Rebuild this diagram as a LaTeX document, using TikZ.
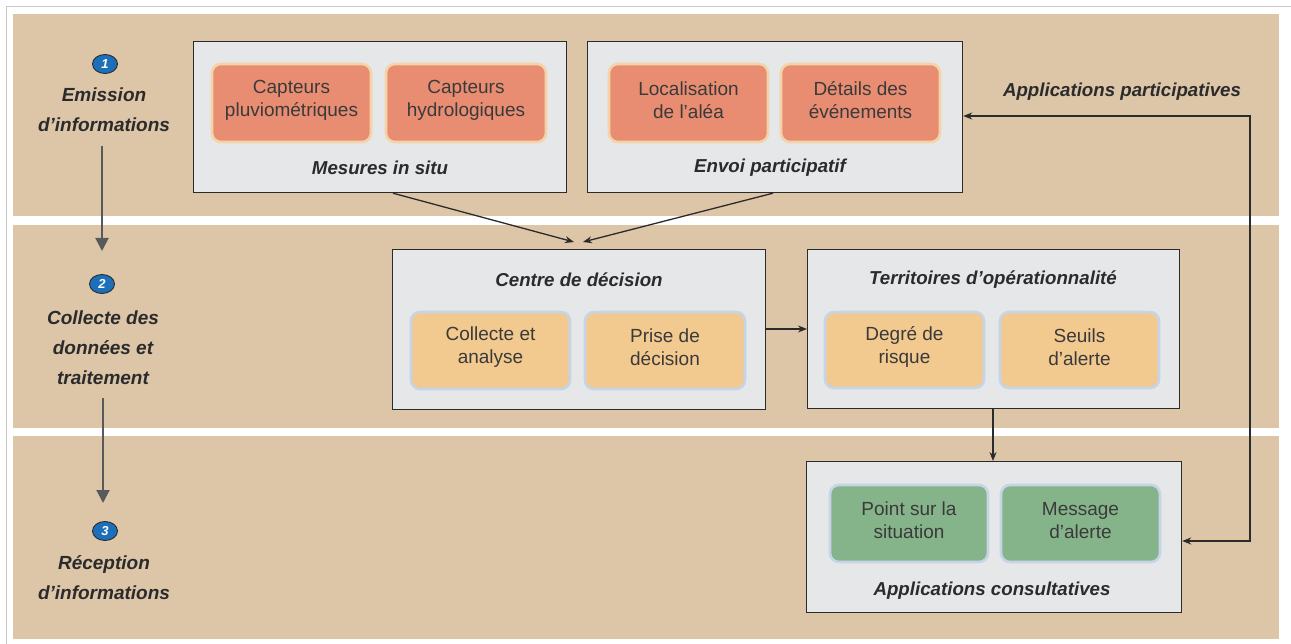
\documentclass[tikz,border=0pt]{standalone}
\usepackage{fontspec}
\setmainfont{Liberation Sans}
\usetikzlibrary{arrows.meta,shapes.geometric}
\definecolor{band}{HTML}{DDC5A8}
\definecolor{panel}{HTML}{E6E7E9}
\definecolor{txt}{HTML}{2B2B2B}
\definecolor{itemtxt}{HTML}{3A3A3A}
\definecolor{orangebox}{HTML}{E98D72}
\definecolor{orangerim}{HTML}{F4D3A8}
\definecolor{yellowbox}{HTML}{F2C98F}
\definecolor{greenbox}{HTML}{86B48A}
\definecolor{bluerim}{HTML}{C6D4E8}
\definecolor{stepblue}{HTML}{1C6FB9}
\definecolor{graya}{HTML}{58595B}
\tikzset{
  bandbox/.style={fill=band, draw=none},
  panelbox/.style={draw=txt, fill=panel, line width=1.2pt},
  inner/.style={rounded corners=9pt, line width=2.6pt, inner sep=0pt},
  itemtext/.style={align=center, text=itemtxt, font=\fontsize{19}{23}\selectfont, inner sep=0pt},
  orangeitem/.style={inner, fill=orangebox, draw=orangerim},
  yellowitem/.style={inner, fill=yellowbox, draw=bluerim},
  greenitem/.style={inner, fill=greenbox, draw=bluerim},
  title/.style={font=\fontsize{18.7}{23}\selectfont\bfseries\itshape, text=txt, inner sep=0pt},
  steplabel/.style={font=\fontsize{19}{30}\selectfont\bfseries\itshape, text=txt, align=center, inner sep=0pt},
  stepnum/.style={ellipse, draw=txt, line width=0.9pt, fill=stepblue, text=white,
     font=\fontsize{13}{13}\selectfont\bfseries\itshape, minimum width=25pt, minimum height=19pt, inner sep=0pt},
  flow/.style={draw=txt, line width=1.3pt, -{Stealth[length=9pt,width=7pt]}},
  biflow/.style={draw=txt, line width=1.3pt, {Stealth[length=9pt,width=7pt]}-{Stealth[length=9pt,width=7pt]}},
  stepflow/.style={draw=graya, line width=2pt, -{Triangle[length=13pt,width=13pt]}},
}
\newcommand\itembox[6]{%
  \node[#1, minimum width=#3pt, minimum height=#4pt] (#2) at (#5) {};
  \node[itemtext] (#2-t) at ([yshift=3pt]#2.center) {#6};
}
\begin{document}
\begin{tikzpicture}[x=1pt,y=-1pt]
\useasboundingbox (0,0) rectangle (1291,644);
% frame
\draw[draw=black!22, line width=1pt] (6,644) -- (6,7) -- (1291,7);
% bands
\fill[bandbox] (13,14) rectangle (1279,216);
\fill[bandbox] (13,225) rectangle (1279,428);
\fill[bandbox] (13,436) rectangle (1279,639);

% panels
\node[panelbox, minimum width=373pt, minimum height=151pt, anchor=north west] (mes) at (193,41) {};
\node[panelbox, minimum width=375pt, minimum height=151pt, anchor=north west] (env) at (587,41) {};
\node[panelbox, minimum width=373pt, minimum height=160pt, anchor=north west] (cen) at (392,249) {};
\node[panelbox, minimum width=372pt, minimum height=159pt, anchor=north west] (ter) at (807,249) {};
\node[panelbox, minimum width=375pt, minimum height=151pt, anchor=north west] (app) at (806,461) {};

% inner items
\itembox{orangeitem}{cp}{159}{78}{291.5,103}{Capteurs\\pluviométriques}
\itembox{orangeitem}{ch}{160}{78}{466,103}{Capteurs\\hydrologiques}
\itembox{orangeitem}{loc}{159}{78}{688.5,103}{Localisation\\de l’aléa}
\itembox{orangeitem}{det}{159}{78}{860.5,103}{Détails des\\événements}
\itembox{yellowitem}{col}{159}{77}{490.5,350.5}{Collecte et\\analyse}
\itembox{yellowitem}{pri}{160}{77}{665,350.5}{Prise de\\décision}
\itembox{yellowitem}{deg}{159}{76}{904.5,350}{Degré de\\risque}
\itembox{yellowitem}{seu}{159}{76}{1079.5,350}{Seuils\\d’alerte}
\itembox{greenitem}{pts}{158}{77}{909,523.5}{Point sur la\\situation}
\itembox{greenitem}{msg}{159}{77}{1080.5,523.5}{Message\\d’alerte}

% titles
\node[title] (tmes) at (380,168) {Mesures in situ};
\node[title] (tenv) at (770,168) {Envoi participatif};
\node[title] (tcen) at (579,280) {Centre de décision};
\node[title] (tter) at (993,280) {Territoires d’opérationnalité};
\node[title] (tapp) at (992,591) {Applications consultatives};
\node[title] (tpar) at (1122,92) {Applications participatives};

% connectors
\coordinate (cin1) at (574,242);
\coordinate (cin2) at (583,242);
\draw[flow] (mes.south west) ++(200,0) coordinate (ms) -- (cin1);
\draw[flow] (env.south west) ++(186,0) coordinate (es) -- (cin2);
\draw[flow] (cen.east |- 0,329) -- (ter.west |- 0,329);
\draw[flow] (ter.south -| 993,0) -- (app.north -| 993,0);
\coordinate (rtop) at (1250,116);
\coordinate (rbot) at (1250,541);
\draw[biflow] (env.east |- rtop) -- (rtop) -- (rbot) -- (app.east |- rbot);

% left steps
\node[stepnum] (n1) at (105,64) {1};
\node[steplabel] (s1) at (104,110) {Emission\\d’informations};
\node[stepnum] (n2) at (102,284) {2};
\node[steplabel] (s2) at (103,348) {Collecte des\\données et\\traitement};
\node[stepnum] (n3) at (105,531) {3};
\node[steplabel] (s3) at (104,578) {Réception\\d’informations};
\coordinate (a1s) at (102,146);
\coordinate (a1e) at (102,251);
\coordinate (a2s) at (103,398);
\coordinate (a2e) at (103,503);
\draw[stepflow] (a1s) -- (a1e);
\draw[stepflow] (a2s) -- (a2e);
\end{tikzpicture}
\end{document}
